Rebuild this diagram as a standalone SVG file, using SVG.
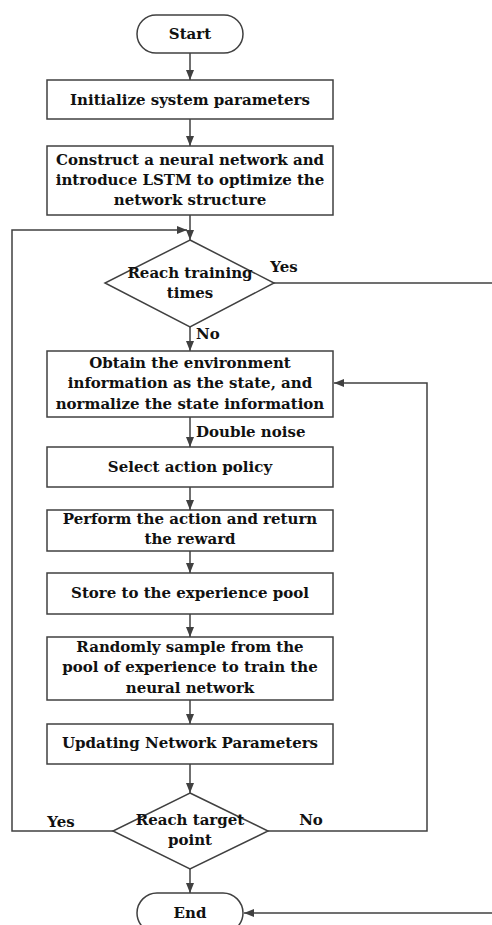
<svg xmlns="http://www.w3.org/2000/svg" width="492" height="925" viewBox="0 0 492 925">
<style>
.s{fill:#fff;stroke:#404040;stroke-width:1.5}
.c{fill:none;stroke:#404040;stroke-width:1.5}
text{font-family:"DejaVu Serif","Liberation Serif",serif;font-weight:bold;font-size:15px;fill:#111;text-anchor:middle}
.l{text-anchor:start}
</style>
<defs>
<marker id="a" viewBox="0 0 10 10" refX="10" refY="5" markerWidth="10" markerHeight="10" markerUnits="userSpaceOnUse" orient="auto">
<path d="M0,1 L10,5 L0,9 Z" fill="#404040"/>
</marker>
</defs>
<g id="connectors">
<line class="c" x1="190" y1="53" x2="190" y2="80" marker-end="url(#a)"/>
<line class="c" x1="190" y1="119" x2="190" y2="146" marker-end="url(#a)"/>
<line class="c" x1="190" y1="215" x2="190" y2="240" marker-end="url(#a)"/>
<polyline class="c" points="113,831 12,831 12,230 187,230" marker-end="url(#a)"/>
<line class="c" x1="274" y1="283" x2="492" y2="283"/>
<line class="c" x1="190" y1="327" x2="190" y2="351" marker-end="url(#a)"/>
<polyline class="c" points="268,831 427,831 427,383 334,383" marker-end="url(#a)"/>
<line class="c" x1="190" y1="417" x2="190" y2="447" marker-end="url(#a)"/>
<line class="c" x1="190" y1="487" x2="190" y2="510" marker-end="url(#a)"/>
<line class="c" x1="190" y1="551" x2="190" y2="573" marker-end="url(#a)"/>
<line class="c" x1="190" y1="614" x2="190" y2="637" marker-end="url(#a)"/>
<line class="c" x1="190" y1="700" x2="190" y2="724" marker-end="url(#a)"/>
<line class="c" x1="190" y1="764" x2="190" y2="793" marker-end="url(#a)"/>
<line class="c" x1="190" y1="869" x2="190" y2="893" marker-end="url(#a)"/>
<line class="c" x1="492" y1="913" x2="244" y2="913" marker-end="url(#a)"/>
<text x="284" y="272">Yes</text>
<text class="l" x="196" y="339">No</text>
<text class="l" x="196" y="437">Double noise</text>
<text x="61" y="827">Yes</text>
<text x="311" y="825">No</text>
</g>
<g id="start">
<rect class="s" x="137" y="15" width="106" height="38" rx="19"/>
<text x="190" y="39">Start</text>
</g>
<g id="init">
<rect class="s" x="47" y="80" width="286" height="39"/>
<text x="190" y="105">Initialize system parameters</text>
</g>
<g id="construct">
<rect class="s" x="47" y="146" width="286" height="69"/>
<text x="190" y="165">Construct a neural network and</text>
<text x="190" y="185">introduce LSTM to optimize the</text>
<text x="190" y="205">network structure</text>
</g>
<g id="training">
<polygon class="s" points="190,240 274,283 190,327 105,283"/>
<text x="190" y="278">Reach training</text>
<text x="190" y="298">times</text>
</g>
<g id="obtain">
<rect class="s" x="47" y="351" width="286" height="66"/>
<text x="190" y="368">Obtain the environment</text>
<text x="190" y="388">information as the state, and</text>
<text x="190" y="409">normalize the state information</text>
</g>
<g id="select">
<rect class="s" x="47" y="447" width="286" height="40"/>
<text x="190" y="472">Select action policy</text>
</g>
<g id="perform">
<rect class="s" x="47" y="510" width="286" height="41"/>
<text x="190" y="524">Perform the action and return</text>
<text x="190" y="544">the reward</text>
</g>
<g id="store">
<rect class="s" x="47" y="573" width="286" height="41"/>
<text x="190" y="598">Store to the experience pool</text>
</g>
<g id="sample">
<rect class="s" x="47" y="637" width="286" height="63"/>
<text x="190" y="652">Randomly sample from the</text>
<text x="190" y="672">pool of experience to train the</text>
<text x="190" y="693">neural network</text>
</g>
<g id="update">
<rect class="s" x="47" y="724" width="286" height="40"/>
<text x="190" y="748">Updating Network Parameters</text>
</g>
<g id="target">
<polygon class="s" points="190,793 268,831 190,869 113,831"/>
<text x="190" y="825">Reach target</text>
<text x="190" y="845">point</text>
</g>
<g id="end">
<rect class="s" x="137" y="893" width="106" height="40" rx="20"/>
<text x="190" y="918">End</text>
</g>
</svg>
